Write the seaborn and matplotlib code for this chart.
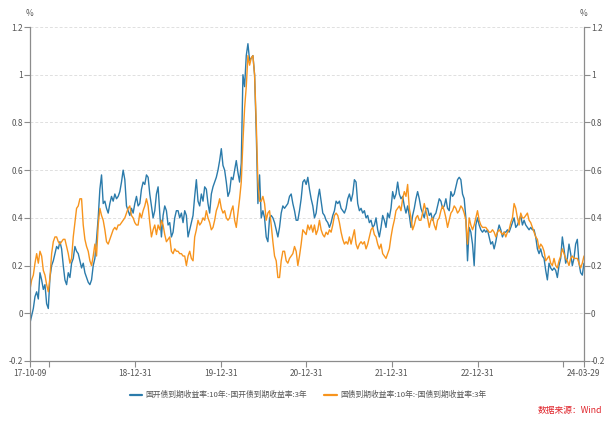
import numpy as np
import pandas as pd
import seaborn as sns
import matplotlib.pyplot as plt
import matplotlib.dates as mdates

# 10年-3年期限利差, 周度, 读自原图
start_date = '2017-10-09'
end_date = '2024-03-29'

cdb_spread = [
    # 2017-10 ~ 2018-12
    -0.04, -0.01, 0.02, 0.07, 0.09, 0.06, 0.17, 0.14, 0.10, 0.12, 0.04, 0.02, 0.15, 0.20, 0.22, 0.25,
    0.28, 0.27, 0.30, 0.27, 0.20, 0.14, 0.12, 0.17, 0.15, 0.21, 0.23, 0.28, 0.26, 0.25, 0.22, 0.19,
    0.21, 0.17, 0.15, 0.13, 0.12, 0.14, 0.20, 0.23, 0.31, 0.40, 0.52, 0.58, 0.46, 0.47, 0.44, 0.42,
    0.46, 0.49, 0.47, 0.50, 0.48, 0.49, 0.51, 0.55, 0.60, 0.56, 0.45, 0.43, 0.41, 0.44, 0.42, 0.46,
    0.49, 0.45,
    # 2019 ~ 2020-01
    0.46, 0.52, 0.55, 0.54, 0.58, 0.57, 0.50, 0.45, 0.40, 0.43, 0.50, 0.53, 0.42, 0.32, 0.41, 0.45,
    0.43, 0.37, 0.38, 0.32, 0.34, 0.40, 0.43, 0.43, 0.40, 0.42, 0.38, 0.43, 0.41, 0.32, 0.35, 0.38,
    0.41, 0.49, 0.56, 0.47, 0.45, 0.50, 0.47, 0.53, 0.52, 0.46, 0.42, 0.50, 0.53, 0.55, 0.57, 0.60,
    0.64, 0.69, 0.62, 0.60, 0.55, 0.49, 0.51, 0.57, 0.56, 0.60, 0.64, 0.59, 0.55,
    # 2020 ~ 2021-01
    0.63, 1.00, 0.95, 1.08, 1.13, 1.06, 1.07, 1.08, 1.00, 0.76, 0.46, 0.58, 0.40, 0.43, 0.40, 0.32,
    0.30, 0.40, 0.41, 0.40, 0.38, 0.35, 0.32, 0.36, 0.42, 0.45, 0.44, 0.45, 0.46, 0.49, 0.50, 0.46,
    0.43, 0.39, 0.39, 0.43, 0.48, 0.55, 0.56, 0.54, 0.57, 0.52, 0.48, 0.45, 0.40, 0.42, 0.48, 0.52,
    0.47, 0.42, 0.41, 0.39, 0.38, 0.36, 0.38, 0.41, 0.43, 0.47, 0.46, 0.47, 0.44, 0.43, 0.42,
    # 2021 ~ 2022-02
    0.44, 0.48, 0.50, 0.47, 0.50, 0.56, 0.55, 0.46, 0.43, 0.44, 0.42, 0.43, 0.40, 0.41, 0.38, 0.39,
    0.36, 0.37, 0.40, 0.35, 0.32, 0.36, 0.41, 0.39, 0.36, 0.42, 0.40, 0.44, 0.51, 0.48, 0.50, 0.55,
    0.50, 0.48, 0.49, 0.45, 0.42, 0.45, 0.41, 0.36, 0.41, 0.44, 0.48, 0.51, 0.48, 0.44, 0.42, 0.40,
    0.44, 0.44, 0.41, 0.42, 0.39, 0.41, 0.42, 0.45, 0.48, 0.47, 0.44, 0.45, 0.48, 0.44, 0.43,
    # 2022-02 ~ 2024-03
    0.51, 0.49, 0.50, 0.53, 0.56, 0.57, 0.56, 0.50, 0.48, 0.40, 0.22, 0.36, 0.34, 0.29, 0.20, 0.37,
    0.40, 0.37, 0.35, 0.34, 0.35, 0.34, 0.35, 0.32, 0.29, 0.30, 0.27, 0.30, 0.34, 0.37, 0.35, 0.32,
    0.34, 0.34, 0.35, 0.34, 0.36, 0.38, 0.40, 0.36, 0.37, 0.39, 0.41, 0.37, 0.39, 0.37, 0.36, 0.35,
    0.36, 0.35, 0.35, 0.32, 0.27, 0.25, 0.27, 0.24, 0.23, 0.18, 0.14, 0.21, 0.19, 0.18, 0.19, 0.18,
    0.15, 0.20, 0.23, 0.32, 0.27, 0.21, 0.23, 0.29, 0.25, 0.20, 0.23, 0.29, 0.31, 0.21, 0.17, 0.16,
    0.21,
]

gov_spread = [
    0.10, 0.14, 0.16, 0.21, 0.25, 0.21, 0.26, 0.24, 0.18, 0.16, 0.12, 0.09, 0.15, 0.25, 0.30, 0.32,
    0.32, 0.30, 0.29, 0.30, 0.31, 0.31, 0.28, 0.25, 0.21, 0.23, 0.32, 0.38, 0.44, 0.45, 0.48, 0.48,
    0.37, 0.31, 0.28, 0.26, 0.22, 0.20, 0.24, 0.29, 0.24, 0.37, 0.44, 0.41, 0.39, 0.35, 0.30, 0.29,
    0.31, 0.33, 0.35, 0.36, 0.35, 0.37, 0.37, 0.38, 0.39, 0.40, 0.42, 0.44, 0.45, 0.41, 0.40, 0.38,
    0.37, 0.37,
    0.42, 0.40, 0.43, 0.45, 0.48, 0.45, 0.38, 0.32, 0.35, 0.37, 0.33, 0.37, 0.35, 0.39, 0.37, 0.33,
    0.30, 0.31, 0.32, 0.26, 0.25, 0.27, 0.26, 0.26, 0.25, 0.25, 0.24, 0.24, 0.20, 0.24, 0.26, 0.23,
    0.22, 0.32, 0.35, 0.39, 0.37, 0.38, 0.40, 0.39, 0.43, 0.40, 0.38, 0.35, 0.36, 0.39, 0.43, 0.45,
    0.48, 0.44, 0.42, 0.43, 0.40, 0.39, 0.40, 0.43, 0.45, 0.39, 0.36, 0.42, 0.48,
    0.55, 0.72, 0.86, 0.95, 1.08, 1.04, 1.07, 1.08, 1.00, 0.80, 0.55, 0.47, 0.47, 0.49, 0.46, 0.39,
    0.42, 0.43, 0.37, 0.30, 0.24, 0.22, 0.15, 0.15, 0.22, 0.26, 0.26, 0.22, 0.21, 0.23, 0.24, 0.25,
    0.28, 0.26, 0.20, 0.24, 0.29, 0.35, 0.34, 0.33, 0.37, 0.35, 0.37, 0.34, 0.37, 0.33, 0.35, 0.39,
    0.35, 0.33, 0.32, 0.34, 0.33, 0.35, 0.34, 0.37, 0.41, 0.42, 0.41, 0.38, 0.34, 0.31, 0.29,
    0.30, 0.29, 0.32, 0.29, 0.32, 0.35, 0.29, 0.27, 0.29, 0.30, 0.29, 0.30, 0.27, 0.29, 0.32, 0.35,
    0.36, 0.33, 0.32, 0.29, 0.27, 0.29, 0.25, 0.24, 0.23, 0.25, 0.27, 0.32, 0.36, 0.39, 0.43, 0.44,
    0.45, 0.43, 0.48, 0.51, 0.49, 0.54, 0.44, 0.40, 0.35, 0.37, 0.40, 0.41, 0.39, 0.39, 0.42, 0.46,
    0.43, 0.40, 0.36, 0.39, 0.40, 0.37, 0.35, 0.39, 0.40, 0.43, 0.45, 0.43, 0.40, 0.36, 0.39,
    0.42, 0.43, 0.45, 0.44, 0.42, 0.43, 0.45, 0.44, 0.42, 0.39, 0.29, 0.40, 0.37, 0.35, 0.37, 0.40,
    0.43, 0.39, 0.37, 0.36, 0.36, 0.36, 0.35, 0.34, 0.34, 0.35, 0.34, 0.32, 0.34, 0.35, 0.34, 0.33,
    0.34, 0.32, 0.34, 0.35, 0.38, 0.40, 0.46, 0.44, 0.40, 0.37, 0.42, 0.40, 0.40, 0.41, 0.42, 0.39,
    0.38, 0.36, 0.34, 0.32, 0.31, 0.27, 0.29, 0.28, 0.26, 0.22, 0.23, 0.24, 0.21, 0.20, 0.23, 0.20,
    0.19, 0.22, 0.24, 0.27, 0.25, 0.23, 0.22, 0.20, 0.23, 0.24, 0.23, 0.23, 0.23, 0.21, 0.19, 0.21,
    0.24,
]

series_names = ['国开债到期收益率:10年:-国开债到期收益率:3年', '国债到期收益率:10年:-国债到期收益率:3年']
series_colors = ['#2b7bab', '#f7941d']

tick_dates = ['2017-10-09', '2017-12-31', '2018-12-31', '2019-12-31', '2020-12-31',
              '2021-12-31', '2022-12-31', '2023-12-31', '2024-03-29']
tick_labels = ['17-10-09', '', '18-12-31', '19-12-31', '20-12-31',
               '21-12-31', '22-12-31', '', '24-03-29']
y_ticks = [-0.2, 0, 0.2, 0.4, 0.6, 0.8, 1.0, 1.2]
y_labels = ['-0.2', '0', '0.2', '0.4', '0.6', '0.8', '1', '1.2']

dates = pd.date_range(start_date, end_date, periods=len(cdb_spread))
df = pd.DataFrame({'date': dates, series_names[0]: cdb_spread, series_names[1]: gov_spread})
df_long = df.melt(id_vars='date', var_name='series', value_name='value')

sns.set_style('white')
plt.rcParams['font.family'] = ['Noto Sans CJK SC', 'DejaVu Sans']
plt.rcParams['axes.unicode_minus'] = False

fig = plt.figure(figsize=(6.16, 4.24), dpi=100)
ax = fig.add_axes([0.0487, 0.1486, 0.8993, 0.7877])

sns.lineplot(data=df_long, x='date', y='value', hue='series', palette=series_colors,
             hue_order=series_names, linewidth=1.0, ax=ax, legend=False)

ax.set_xlim(pd.Timestamp(start_date), pd.Timestamp(end_date))
ax.set_ylim(-0.2, 1.2)
ax.set_yticks(y_ticks)
ax.set_yticklabels(y_labels)
ax.set_xticks(pd.to_datetime(tick_dates))
ax.set_xticklabels(tick_labels)
ax.set_xlabel('')
ax.set_ylabel('')

for y in y_ticks[1:]:
    ax.axhline(y, color='#e0e0e0', linestyle=(0, (3, 2)), linewidth=0.7, zorder=0)

for side in ['left', 'right', 'bottom']:
    ax.spines[side].set_color('#8c8c8c')
    ax.spines[side].set_linewidth(0.9)
ax.spines['top'].set_visible(False)

ax.tick_params(axis='y', left=True, right=True, labelleft=True, labelright=True,
               length=4, width=0.8, color='#8c8c8c', labelsize=6, labelcolor='#555555', pad=1)
ax.tick_params(axis='x', bottom=True, length=4, width=0.8, color='#8c8c8c',
               labelsize=6, labelcolor='#555555', pad=2)

ax.text(0.0, 1.04, '%', transform=ax.transAxes, ha='center', va='center', fontsize=6, color='#555555')
ax.text(1.0, 1.04, '%', transform=ax.transAxes, ha='center', va='center', fontsize=6, color='#555555')

handles = [plt.Line2D([], [], color=c, linewidth=1.6) for c in series_colors]
fig.legend(handles, series_names, loc='center', bbox_to_anchor=(0.5, 0.068), ncol=2,
           frameon=False, fontsize=5.6, handlelength=1.6, handletextpad=0.4, columnspacing=2.2,
           labelcolor='#555555')

fig.text(0.978, 0.032, '数据来源：Wind', ha='right', va='center', fontsize=6.3, color='#e0242b')

fig.savefig('out.png', dpi=100)
